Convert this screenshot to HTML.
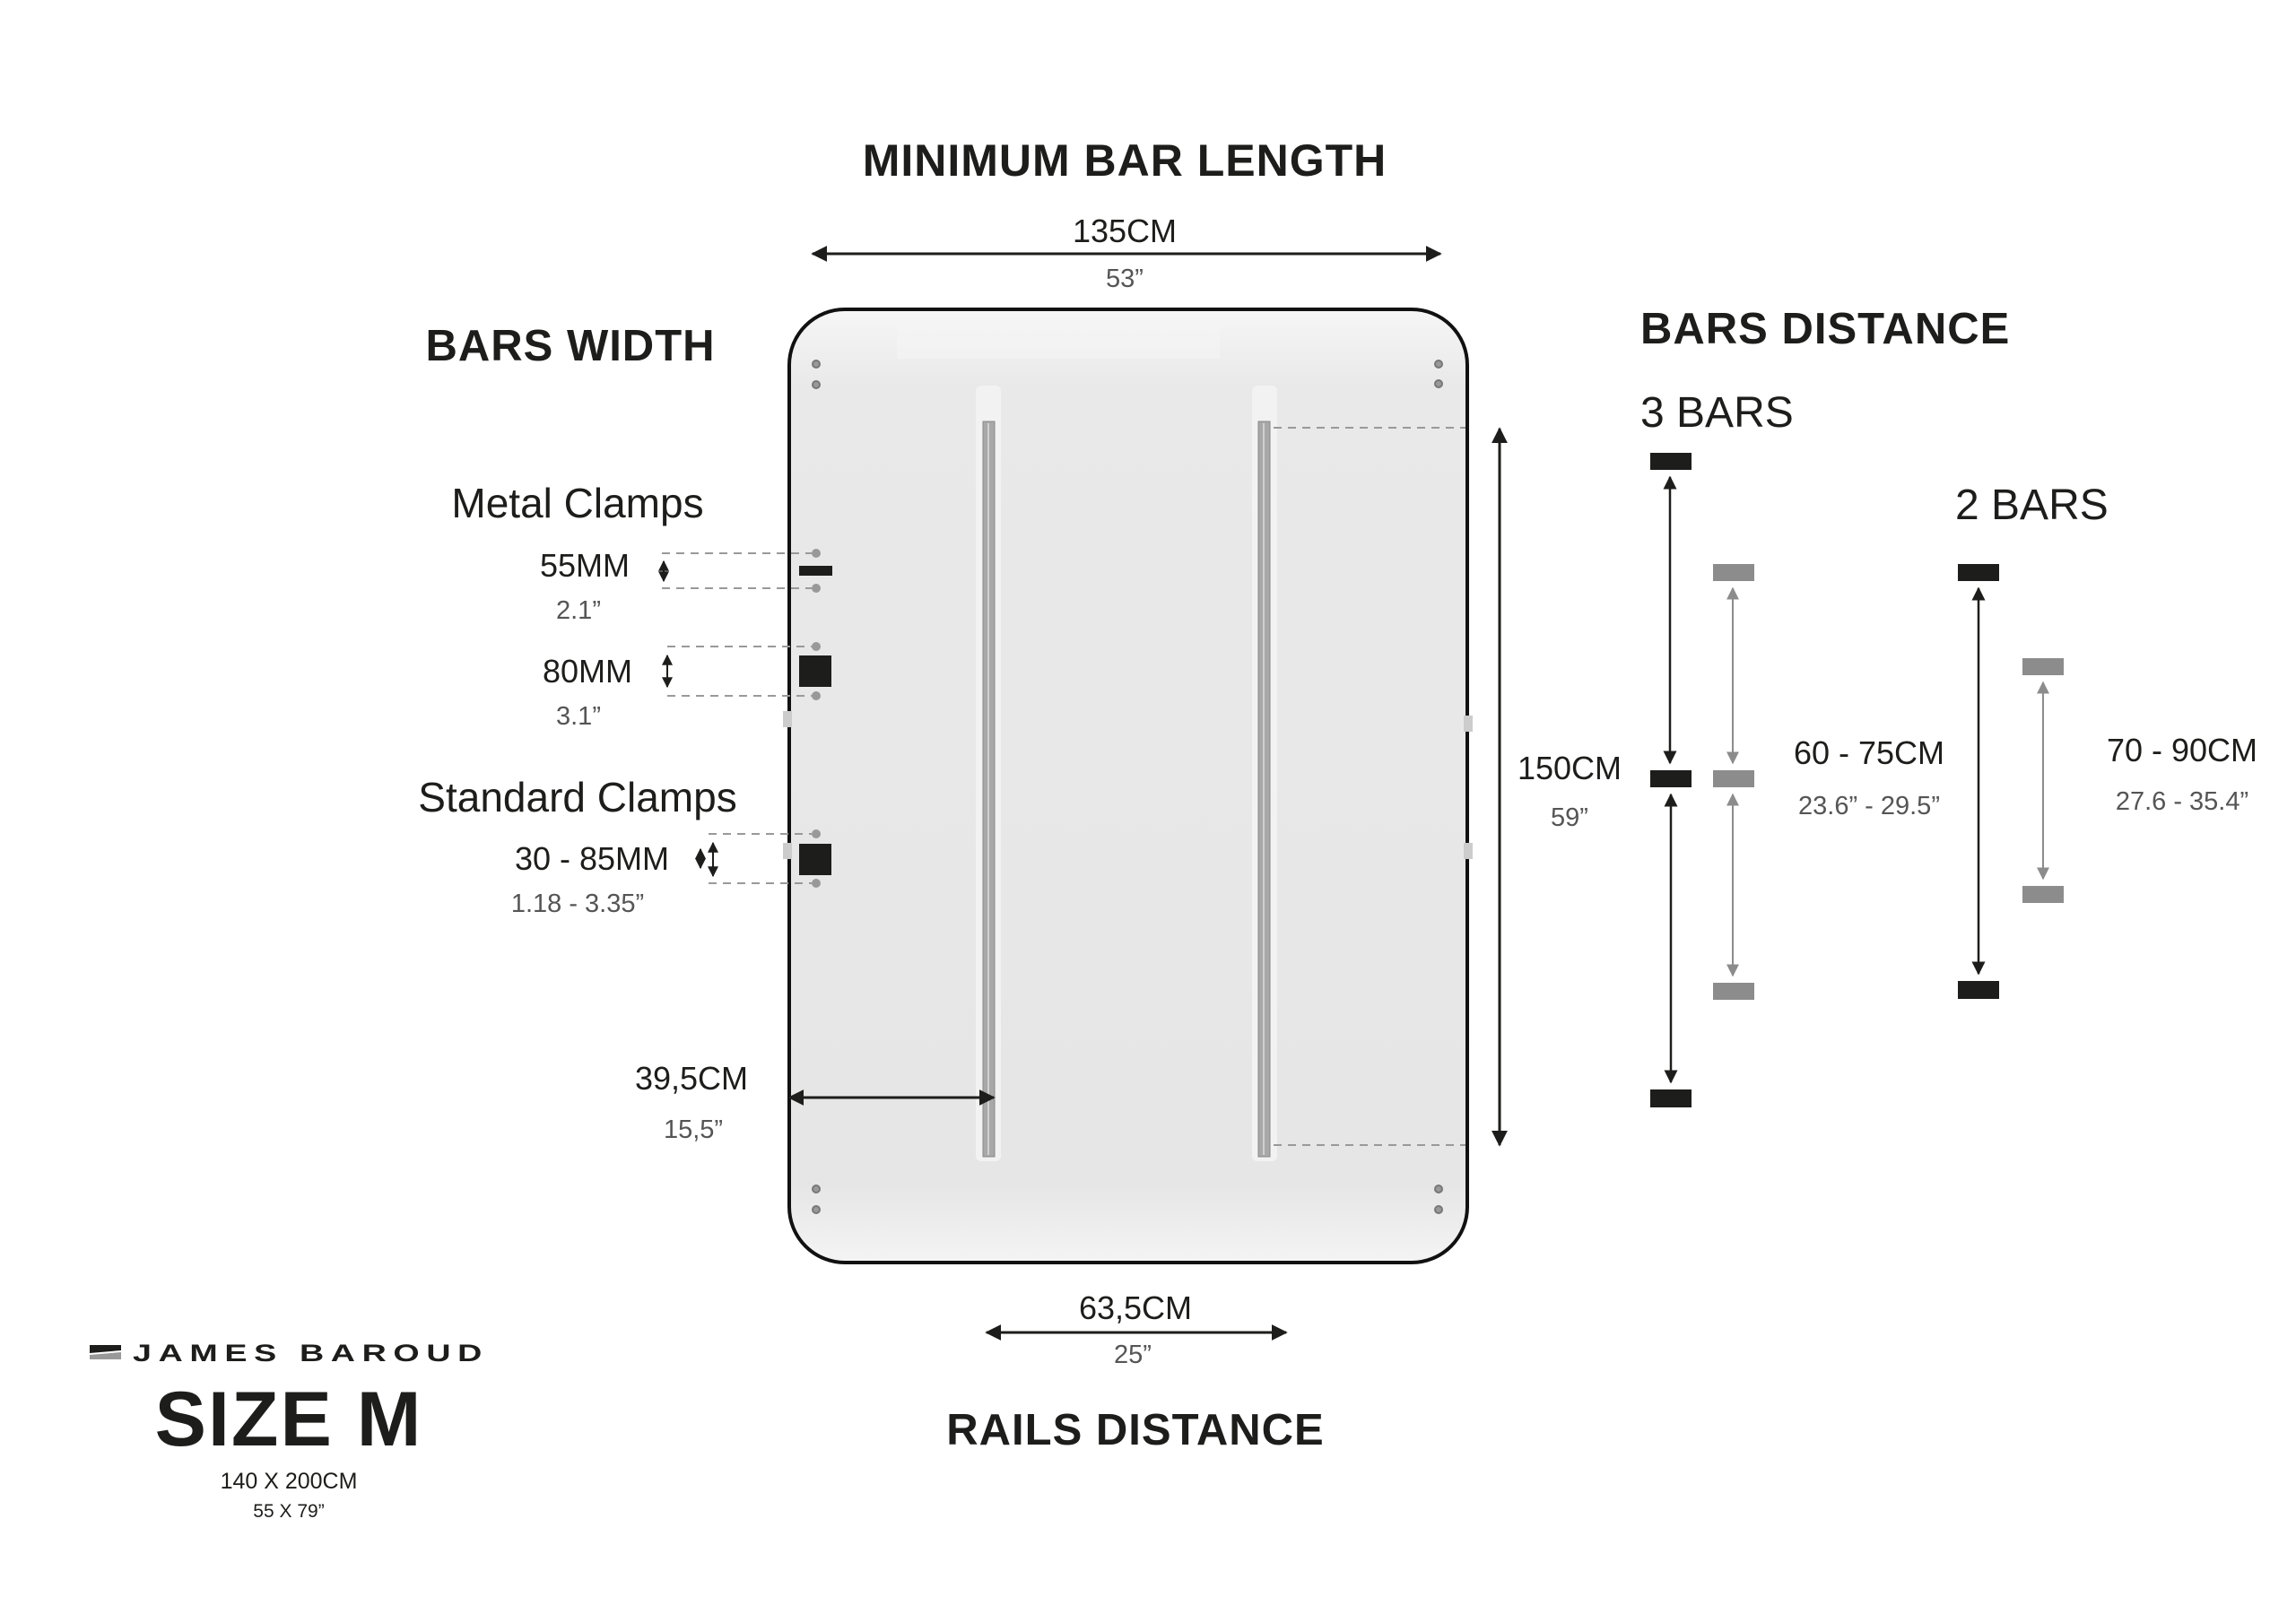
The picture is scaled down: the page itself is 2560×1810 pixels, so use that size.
<!DOCTYPE html>
<html><head><meta charset="utf-8"><style>
html,body{margin:0;padding:0;background:#fff;}
svg{display:block;}
text{font-family:"Liberation Sans",sans-serif;fill:#1d1d1b;}
.b{font-weight:bold;}
.s{fill:#555;}
</style></head><body>
<svg width="2560" height="1810" viewBox="0 0 2560 1810" xmlns="http://www.w3.org/2000/svg">
<defs>
<marker id="ak" viewBox="0 0 10 10" refX="9" refY="5" markerWidth="6" markerHeight="6" orient="auto-start-reverse"><path d="M0 0L10 5L0 10z" fill="#1d1d1b"/></marker>
<marker id="ag" viewBox="0 0 10 10" refX="9" refY="5" markerWidth="7" markerHeight="7" orient="auto-start-reverse"><path d="M0 0L10 5L0 10z" fill="#8c8c8c"/></marker>
<linearGradient id="bg" x1="0" y1="0" x2="0" y2="1"><stop offset="0" stop-color="#f6f6f6"/><stop offset="0.08" stop-color="#e9e9e9"/><stop offset="0.92" stop-color="#e6e6e6"/><stop offset="1" stop-color="#f4f4f4"/></linearGradient>
</defs>

<text x="1254" y="196" font-size="50" class="b" text-anchor="middle" letter-spacing="1">MINIMUM BAR LENGTH</text>
<text x="1254" y="270" font-size="36" text-anchor="middle">135CM</text>
<line x1="906" y1="283" x2="1606" y2="283" stroke="#1d1d1b" stroke-width="3" marker-start="url(#ak)" marker-end="url(#ak)"/>
<text x="1254" y="320" font-size="29" text-anchor="middle" class="s">53”</text>

<text x="636" y="402" font-size="49" class="b" text-anchor="middle" letter-spacing="1">BARS WIDTH</text>

<rect x="880" y="345" width="756" height="1063" rx="62" fill="url(#bg)" stroke="#111" stroke-width="4"/>
<rect x="1000" y="360" width="360" height="40" fill="#f3f3f3" opacity="0.7"/>
<rect x="1088" y="430" width="28" height="865" rx="6" fill="#f2f2f2"/>
<rect x="1396" y="430" width="28" height="865" rx="6" fill="#f2f2f2"/>
<rect x="1096" y="470" width="13" height="820" fill="#a8a8a8" stroke="#888" stroke-width="1"/>
<line x1="1102" y1="472" x2="1102" y2="1288" stroke="#d0d0d0" stroke-width="2"/>
<rect x="1403" y="470" width="13" height="820" fill="#a8a8a8" stroke="#888" stroke-width="1"/>
<line x1="1409" y1="472" x2="1409" y2="1288" stroke="#d0d0d0" stroke-width="2"/>
<rect x="873" y="793" width="10" height="18" fill="#ccc"/>
<rect x="873" y="940" width="10" height="18" fill="#ccc"/>
<rect x="1632" y="798" width="10" height="18" fill="#ccc"/>
<rect x="1632" y="940" width="10" height="18" fill="#ccc"/>
<g fill="#999" stroke="#777" stroke-width="2">
<circle cx="910" cy="406" r="4"/><circle cx="910" cy="429" r="4"/>
<circle cx="1604" cy="406" r="4"/><circle cx="1604" cy="428" r="4"/>
<circle cx="910" cy="1326" r="4"/><circle cx="910" cy="1349" r="4"/>
<circle cx="1604" cy="1326" r="4"/><circle cx="1604" cy="1349" r="4"/>
</g>

<text x="644" y="577" font-size="46" text-anchor="middle">Metal Clamps</text>
<text x="702" y="643" font-size="36" text-anchor="end">55MM</text>
<text x="645" y="690" font-size="29" text-anchor="middle" class="s">2.1”</text>
<g stroke="#999" stroke-width="2" stroke-dasharray="9,7">
<line x1="738" y1="617" x2="905" y2="617"/><line x1="738" y1="656" x2="905" y2="656"/>
<line x1="744" y1="721" x2="905" y2="721"/><line x1="744" y1="776" x2="905" y2="776"/>
<line x1="790" y1="930" x2="905" y2="930"/><line x1="790" y1="985" x2="905" y2="985"/>
<line x1="1420" y1="477" x2="1634" y2="477"/><line x1="1420" y1="1277" x2="1634" y2="1277"/>
</g>
<g fill="#999"><circle cx="910" cy="617" r="5"/><circle cx="910" cy="656" r="5"/><circle cx="910" cy="721" r="5"/><circle cx="910" cy="776" r="5"/><circle cx="910" cy="930" r="5"/><circle cx="910" cy="985" r="5"/></g>
<rect x="891" y="631" width="37" height="11" fill="#1d1d1b"/>
<line x1="740" y1="626" x2="740" y2="648" stroke="#1d1d1b" stroke-width="2" marker-start="url(#ak)" marker-end="url(#ak)"/>
<text x="705" y="761" font-size="36" text-anchor="end">80MM</text>
<text x="645" y="808" font-size="29" text-anchor="middle" class="s">3.1”</text>
<rect x="891" y="731" width="36" height="35" fill="#1d1d1b"/>
<line x1="744" y1="731" x2="744" y2="766" stroke="#1d1d1b" stroke-width="2" marker-start="url(#ak)" marker-end="url(#ak)"/>
<text x="644" y="905" font-size="46" text-anchor="middle">Standard Clamps</text>
<text x="746" y="970" font-size="36" text-anchor="end">30 - 85MM</text>
<text x="644" y="1017" font-size="29" text-anchor="middle" class="s">1.18 - 3.35”</text>
<rect x="891" y="941" width="36" height="35" fill="#1d1d1b"/>
<line x1="781" y1="947" x2="781" y2="968" stroke="#1d1d1b" stroke-width="2" marker-start="url(#ak)" marker-end="url(#ak)"/>
<line x1="795" y1="940" x2="795" y2="977" stroke="#1d1d1b" stroke-width="2" marker-start="url(#ak)" marker-end="url(#ak)"/>

<text x="771" y="1215" font-size="36" text-anchor="middle">39,5CM</text>
<line x1="880" y1="1224" x2="1108" y2="1224" stroke="#1d1d1b" stroke-width="3" marker-start="url(#ak)" marker-end="url(#ak)"/>
<text x="773" y="1269" font-size="29" text-anchor="middle" class="s">15,5”</text>

<line x1="1672" y1="478" x2="1672" y2="1277" stroke="#1d1d1b" stroke-width="3" marker-start="url(#ak)" marker-end="url(#ak)"/>
<text x="1750" y="869" font-size="36" text-anchor="middle">150CM</text>
<text x="1750" y="921" font-size="29" text-anchor="middle" class="s">59”</text>

<text x="1266" y="1471" font-size="36" text-anchor="middle">63,5CM</text>
<line x1="1100" y1="1486" x2="1434" y2="1486" stroke="#1d1d1b" stroke-width="3" marker-start="url(#ak)" marker-end="url(#ak)"/>
<text x="1263" y="1520" font-size="29" text-anchor="middle" class="s">25”</text>
<text x="1266" y="1611" font-size="49" class="b" text-anchor="middle" letter-spacing="1">RAILS DISTANCE</text>

<text x="1829" y="383" font-size="49" class="b" letter-spacing="1">BARS DISTANCE</text>
<text x="1829" y="476" font-size="48">3 BARS</text>
<g fill="#1d1d1b">
<rect x="1840" y="505" width="46" height="19"/><rect x="1840" y="859" width="46" height="19"/><rect x="1840" y="1215" width="46" height="20"/>
<rect x="2183" y="629" width="46" height="19"/><rect x="2183" y="1094" width="46" height="20"/>
</g>
<g fill="#8c8c8c">
<rect x="1910" y="629" width="46" height="19"/><rect x="1910" y="859" width="46" height="19"/><rect x="1910" y="1096" width="46" height="19"/>
<rect x="2255" y="734" width="46" height="19"/><rect x="2255" y="988" width="46" height="19"/>
</g>
<g stroke="#1d1d1b" stroke-width="2.5">
<line x1="1862" y1="532" x2="1862" y2="851" marker-start="url(#ak)" marker-end="url(#ak)"/>
<line x1="1863" y1="886" x2="1863" y2="1207" marker-start="url(#ak)" marker-end="url(#ak)"/>
<line x1="2206" y1="656" x2="2206" y2="1086" marker-start="url(#ak)" marker-end="url(#ak)"/>
</g>
<g stroke="#8c8c8c" stroke-width="2">
<line x1="1932" y1="656" x2="1932" y2="851" marker-start="url(#ag)" marker-end="url(#ag)"/>
<line x1="1932" y1="886" x2="1932" y2="1088" marker-start="url(#ag)" marker-end="url(#ag)"/>
<line x1="2278" y1="761" x2="2278" y2="980" marker-start="url(#ag)" marker-end="url(#ag)"/>
</g>
<text x="2084" y="852" font-size="36" text-anchor="middle">60 - 75CM</text>
<text x="2084" y="908" font-size="29" text-anchor="middle" class="s">23.6” - 29.5”</text>
<text x="2180" y="579" font-size="48">2 BARS</text>
<text x="2433" y="849" font-size="36" text-anchor="middle">70 - 90CM</text>
<text x="2433" y="903" font-size="29" text-anchor="middle" class="s">27.6 - 35.4”</text>

<path d="M100 1500L135 1500L135 1506L100 1509z" fill="#1d1d1b"/>
<path d="M100 1511L135 1508L135 1516L100 1516z" fill="#999"/>
<text x="148" y="1518" font-size="27" letter-spacing="5.5" class="b" textLength="397" lengthAdjust="spacingAndGlyphs">JAMES BAROUD</text>
<text x="322" y="1612" font-size="86" class="b" text-anchor="middle" letter-spacing="2">SIZE M</text>
<text x="322" y="1660" font-size="25" text-anchor="middle">140 X 200CM</text>
<text x="322" y="1692" font-size="21" text-anchor="middle">55 X 79”</text>
</svg>
</body></html>
